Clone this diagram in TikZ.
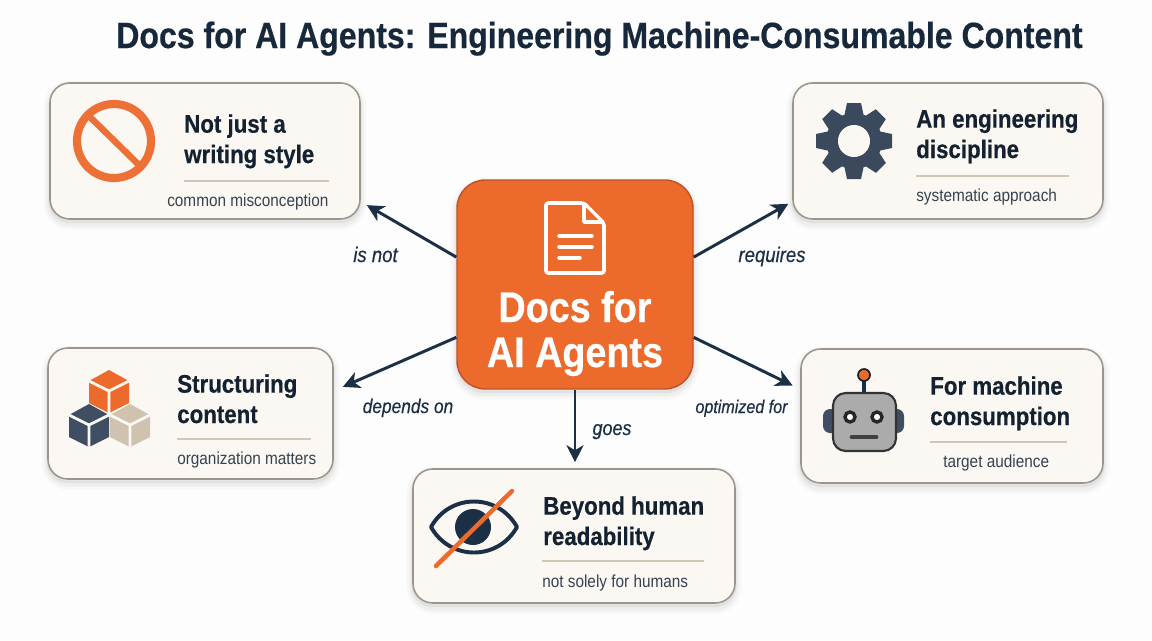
\documentclass[tikz,border=0pt]{standalone}
\usepackage{fontspec}
\setmainfont[FakeStretch=0.88,BoldFeatures={FakeBold=0.5}]{Liberation Sans}
\usetikzlibrary{arrows.meta,calc}

\definecolor{navy}{HTML}{1B2F45}
\definecolor{slate}{HTML}{3F4E62}
\definecolor{gearcol}{HTML}{3A495B}
\definecolor{subgrey}{HTML}{36424F}
\definecolor{orangefill}{HTML}{EC6A2B}
\definecolor{orangeedge}{HTML}{BE5226}
\definecolor{cardfill}{HTML}{FBF8F3}
\definecolor{cardedge}{HTML}{9C958B}
\definecolor{sand}{HTML}{CFC3B0}
\definecolor{rulecol}{HTML}{CFC8B8}

\tikzset{
  softshadow/.style={
    preaction={draw=black,draw opacity=.025,line width=9pt,transform canvas={yshift=-3pt}},
    preaction={draw=black,draw opacity=.035,line width=5pt,transform canvas={yshift=-3pt}},
    preaction={draw=black,draw opacity=.05,line width=2pt,transform canvas={yshift=-2pt}}},
  card/.style={rectangle,rounded corners=14pt,draw=cardedge,line width=1.1pt,fill=cardfill,softshadow,inner sep=0pt},
  cardhead/.style={anchor=base west,align=left,inner sep=0pt,text=navy!70!black,font=\fontsize{18}{21.6}\selectfont\bfseries},
  cardsub/.style={anchor=base west,inner sep=0pt,text=subgrey,font=\fontsize{12.4}{15}\selectfont},
  cardrule/.style={draw=rulecol,line width=.9pt},
  edgelabel/.style={anchor=base,inner sep=0pt,text=navy,font=\fontsize{#1}{16}\selectfont\itshape\addfontfeature{FakeBold=0.4}},
  linkarrow/.style={draw=navy,line width=2.1pt,-{Stealth[length=12pt,width=12pt,inset=3.5pt]}}
}

% one isometric box: centre x, centre y, colour
\newcommand{\isobox}[3]{
  \fill[#3] (#1,#2-21) -- (#1+20,#2-10) -- (#1+20,#2+12) -- (#1,#2+22) -- (#1-20,#2+12) -- (#1-20,#2-10) -- cycle;
  \draw[cardfill,line width=2pt] (#1-20,#2-10) -- (#1,#2) -- (#1+20,#2-10) (#1,#2) -- (#1,#2+22);
}

\begin{document}
\begin{tikzpicture}[x=0.025cm,y=-0.025cm]
\useasboundingbox[fill=white!99.2!black] (0,0) rectangle (1152,640);

\node[anchor=base west,inner sep=0pt,text=navy!85!black,font=\fontsize{25.9}{30}\selectfont\bfseries] (title) at (116,48) {Docs for AI Agents: Engineering Machine-Consumable Content};

% cards
\node[card,minimum width=310*0.025cm,minimum height=136*0.025cm] (notbox) at (205,151) {};
\node[card,minimum width=310*0.025cm,minimum height=136*0.025cm] (engbox) at (948,151) {};
\node[card,minimum width=285*0.025cm,minimum height=131*0.025cm] (structbox) at (190.5,413.5) {};
\node[card,minimum width=302*0.025cm,minimum height=134*0.025cm] (machbox) at (952,416) {};
\node[card,minimum width=322*0.025cm,minimum height=134*0.025cm] (humanbox) at (574,536) {};
\node[rectangle,rounded corners=20pt,draw=orangeedge,line width=1pt,fill=orangefill,softshadow,inner sep=0pt,minimum width=236*0.025cm,minimum height=209*0.025cm] (hub) at (575,284.5) {};

% arrows
\draw[linkarrow,shorten >=5pt] (hub.167) -- (notbox.-18.4);
\draw[linkarrow,shorten >=3.2pt] (hub.13) -- (engbox.198.9);
\draw[linkarrow,shorten >=7pt] (hub.204) -- (structbox.9);
\draw[linkarrow,shorten >=6pt] (hub.-24) -- (machbox.170);
\draw[linkarrow,shorten >=4.3pt] (hub.south) -- (humanbox.north -| hub.south);

\node[edgelabel=15] (isnot) at (375.5,262) {is not};
\node[edgelabel=15] (requires) at (772,262) {requires};
\node[edgelabel=14] (dependson) at (408,413) {depends on};
\node[edgelabel=13] (optimized) at (741.5,413) {optimized for};
\node[edgelabel=14.5] (goes) at (612,435) {goes};

% hub text and page icon
\node[anchor=base,align=center,inner sep=0pt,text=white,font=\fontsize{30.5}{32}\selectfont\bfseries] (hubtext) at (575,367) {Docs for\\AI Agents};
\draw[white,line width=2.5pt,line join=round,rounded corners=1.5pt] (546,203) -- (584,203) -- (604,223) -- (604,273) -- (546,273) -- cycle;
\draw[white,line width=2.5pt,line join=round] (584,203) -- (584,222) -- (604,222);
\draw[white,line width=2.5pt,line cap=round] (559,236) -- (592,236) (559,247) -- (592,247) (559,258) -- (580,258);

% not just a writing style
\draw[orangefill!95!white,line width=5.8pt] (114,141) circle (37);
\draw[orangefill!95!white,line width=4.6pt] (90,117) -- (140,166);
\node[cardhead] (nothead) at (184,163) {Not just a\\writing style};
\draw[cardrule] (184,181) -- (329,181);
\node[cardsub] (notsub) at (167,206) {common misconception};

% an engineering discipline
\fill[gearcol] (854,141) circle (28);
\foreach \a in {0,45,...,315} {
    \fill[gearcol,rotate around={\a:(854,141)}] (844,117) -- (847,103) -- (861,103) -- (864,117) -- cycle;
}
\fill[cardfill] (854,141) circle (16);
\node[cardhead] (enghead) at (916,158) {An engineering\\discipline};
\draw[cardrule] (916,176) -- (1069,176);
\node[cardsub] (engsub) at (916,201) {systematic approach};

% structuring content
\isobox{89}{425}{slate}
\isobox{130}{425}{sand}
\isobox{109}{391}{orangefill}
\node[cardhead] (structhead) at (177,423) {Structuring\\content};
\draw[cardrule] (177,439) -- (311,439);
\node[cardsub] (structsub) at (177,464) {organization matters};

% for machine consumption
\fill[slate,rounded corners=5pt] (823,409) rectangle (840,433);
\fill[slate,rounded corners=5pt] (889,409) rectangle (904,433);
\draw[navy,line width=2.6pt] (864,393) -- (864,380);
\draw[navy!70!black,line width=1.2pt,fill=orangefill] (864,375) circle (6);
\draw[black!80,line width=1.5pt,fill=black!33,rounded corners=9pt] (833,393) rectangle (896,451);
\draw[black!85,line width=2.4pt,fill=white] (850,417) circle (5) (877,417) circle (5);
\draw[black!75,line width=3.5pt,line cap=round] (852,437) -- (876,437);
\node[cardhead] (machhead) at (930,425) {For machine\\consumption};
\draw[cardrule] (930,442) -- (1067,442);
\node[cardsub] (machsub) at (943,467) {target audience};

% beyond human readability
\draw[navy,line width=2.8pt,line join=round] (431,527) .. controls (450,493) and (498,493) .. (517,527) .. controls (498,561) and (450,561) .. cycle;
\fill[navy] (473,527) circle (18);
\draw[orangefill,line width=3.2pt,line cap=round] (512,491) -- (436,566);
\node[cardhead] (humanhead) at (543,545) {Beyond human\\readability};
\draw[cardrule] (542,561) -- (704,561);
\node[cardsub] (humansub) at (542,587) {not solely for humans};

\end{tikzpicture}
\end{document}
